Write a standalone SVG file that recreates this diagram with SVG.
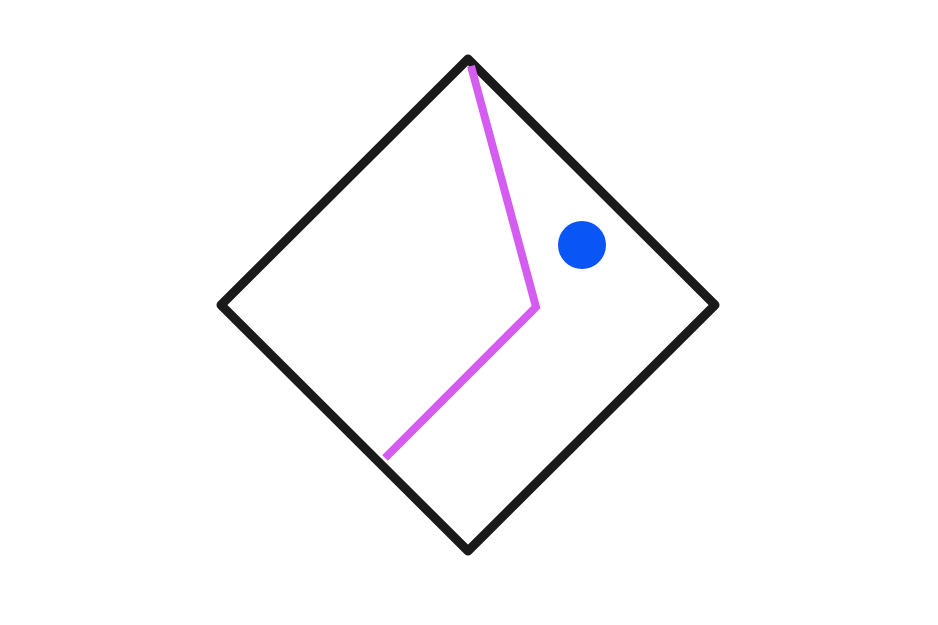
<svg xmlns="http://www.w3.org/2000/svg" width="938" height="625" viewBox="0 0 938 625">
<style>
.frame{fill:none;stroke:#1a1a1a;stroke-width:9;stroke-linejoin:round}
.path{fill:none;stroke:#d55cf0;stroke-width:8;stroke-linejoin:miter}
.dot{fill:#0a55f5}
</style>
<rect width="938" height="625" fill="#ffffff"/>
<g id="frame"><polygon class="frame" points="468,59 715,305 468,551 221,305"/></g>
<g id="route"><polyline class="path" points="471,66 536,307 385,458"/></g>
<g id="point"><circle class="dot" cx="582" cy="245" r="24"/></g>
</svg>
